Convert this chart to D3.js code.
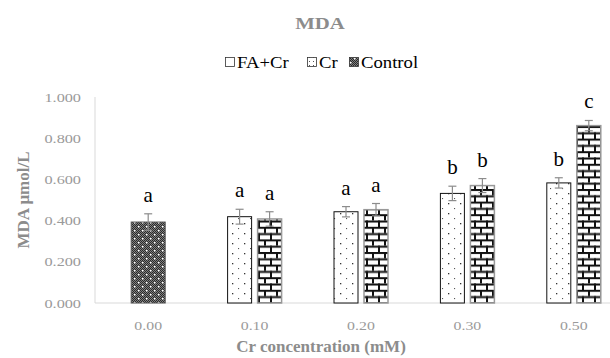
<!DOCTYPE html>
<html>
<head>
<meta charset="utf-8">
<script src="https://cdn.jsdelivr.net/npm/d3@7"></script>
<style>
  body { margin: 0; background: #fff; }
  svg { display: block; }
  svg text { font-family: "Liberation Serif", "DejaVu Serif", serif; }
</style>
</head>
<body>
<div id="chart"></div>
<script>
const categories = ['0.00', '0.10', '0.20', '0.30', '0.50'];
const seriesNames = ['FA+Cr', 'Cr', 'Control'];
const faCrValues = [null, 0.419, 0.443, 0.532, 0.583];
const crValues = [null, 0.408, 0.453, 0.570, 0.861];
const controlValues = [0.393, null, null, null, null];
const faCrErrors = [null, 0.036, 0.025, 0.035, 0.025];
const crErrors = [null, 0.035, 0.03, 0.034, 0.025];
const controlErrors = [0.04, null, null, null, null];
const faCrLetters = [null, 'a', 'a', 'b', 'b'];
const crLetters = [null, 'a', 'a', 'b', 'c'];
const controlLetters = ['a', null, null, null, null];
const yTicks = [0, 0.2, 0.4, 0.6, 0.8, 1.0];

const width = 610;
const height = 358;
const margin = { top: 97, right: -17, bottom: 55, left: 95 };

const svg = d3.select('#chart').append('svg')
  .attr('width', width)
  .attr('height', height);

// the original text looks stretched sideways, so text gets a small x-scale
function wideText(g, px, py, sx, anchor) {
  return g.append('text')
    .attr('transform', `translate(${px},${py}) scale(${sx},1)`)
    .attr('text-anchor', anchor || 'middle');
}

// patterns
const defs = svg.append('defs');

const dots = defs.append('pattern').attr('id', 'pat-dots')
  .attr('patternUnits', 'userSpaceOnUse').attr('width', 12).attr('height', 10);
dots.append('rect').attr('width', 12).attr('height', 10).attr('fill', '#fff');
dots.append('rect').attr('x', 4).attr('y', 3).attr('width', 1.3).attr('height', 1.3).attr('fill', '#333');
dots.append('rect').attr('x', 10).attr('y', 8).attr('width', 1.1).attr('height', 1.1).attr('fill', '#555');

const brick = defs.append('pattern').attr('id', 'pat-brick')
  .attr('patternUnits', 'userSpaceOnUse').attr('width', 12).attr('height', 12.6);
brick.append('rect').attr('width', 12).attr('height', 12.6).attr('fill', '#fff');
brick.append('rect').attr('x', 0).attr('y', 0).attr('width', 12).attr('height', 2).attr('fill', '#111');
brick.append('rect').attr('x', 0).attr('y', 6.3).attr('width', 12).attr('height', 2).attr('fill', '#111');
brick.append('rect').attr('x', 0).attr('y', 0).attr('width', 2).attr('height', 6.3).attr('fill', '#111');
brick.append('rect').attr('x', 6).attr('y', 6.3).attr('width', 2).attr('height', 6.3).attr('fill', '#111');

const dark = defs.append('pattern').attr('id', 'pat-dark')
  .attr('patternUnits', 'userSpaceOnUse').attr('width', 8).attr('height', 8);
dark.append('rect').attr('width', 8).attr('height', 8).attr('fill', '#808080');
for (let i = 0; i < 8; i++) {
  for (let j = 0; j < 8; j++) {
    if ((i + j) % 2 === 0) dark.append('rect').attr('x', i).attr('y', j).attr('width', 1).attr('height', 1).attr('fill', '#2a2a2a');
  }
}
dark.append('rect').attr('x', 2).attr('y', 2).attr('width', 1.5).attr('height', 1.5).attr('fill', '#fff');
dark.append('rect').attr('x', 6).attr('y', 6).attr('width', 1.5).attr('height', 1.5).attr('fill', '#fff');

// small legend swatch for the dotted series
const dotsKey = defs.append('pattern').attr('id', 'pat-dots-key')
  .attr('patternUnits', 'userSpaceOnUse').attr('width', 4).attr('height', 4);
dotsKey.append('rect').attr('width', 4).attr('height', 4).attr('fill', '#fff');
dotsKey.append('rect').attr('x', 1).attr('y', 1).attr('width', 1).attr('height', 1).attr('fill', '#555');

const fills = { 'FA+Cr': 'url(#pat-dots)', 'Cr': 'url(#pat-brick)', 'Control': 'url(#pat-dark)' };
const keyFills = { 'FA+Cr': '#fff', 'Cr': 'url(#pat-dots-key)', 'Control': 'url(#pat-dark)' };
const strokes = { 'FA+Cr': '#111', 'Cr': '#999', 'Control': '#555' };

// scales
const x = d3.scaleBand().domain(categories)
  .range([margin.left, width - margin.right]);
const x1 = d3.scaleBand().domain(['FA+Cr', 'Cr'])
  .range([-27.5, 27.5]).paddingInner(0.1667);
const y = d3.scaleLinear().domain([0, 1]).range([height - margin.bottom, margin.top]);

// axes
svg.append('line')
  .attr('x1', margin.left).attr('x2', margin.left)
  .attr('y1', y(1)).attr('y2', y(0))
  .attr('stroke', '#d9d9d9');
svg.append('line')
  .attr('x1', margin.left).attr('x2', width)
  .attr('y1', y(0)).attr('y2', y(0))
  .attr('stroke', '#d9d9d9');

const tickG = svg.append('g').attr('fill', '#9a9a9a').attr('font-size', 13);
yTicks.forEach((d) => {
  wideText(tickG, 81, y(d), 1.25, 'end')
    .attr('dy', '0.35em')
    .text(d3.format('.3f')(d));
});
categories.forEach((d) => {
  wideText(tickG, x(d) + x.bandwidth() / 2, 325, 1.22)
    .attr('dy', '0.35em')
    .text(d);
});

// bars
const bars = [];
categories.forEach((cat, i) => {
  const cx = x(cat) + x.bandwidth() / 2;
  if (faCrValues[i] != null) bars.push({ s: 'FA+Cr', x0: cx + x1('FA+Cr'), w: x1.bandwidth(), v: faCrValues[i], e: faCrErrors[i], l: faCrLetters[i] });
  if (crValues[i] != null) bars.push({ s: 'Cr', x0: cx + x1('Cr'), w: x1.bandwidth(), v: crValues[i], e: crErrors[i], l: crLetters[i] });
  if (controlValues[i] != null) bars.push({ s: 'Control', x0: cx - 17.5, w: 35, v: controlValues[i], e: controlErrors[i], l: controlLetters[i] });
});

const barG = svg.append('g');
barG.selectAll('rect').data(bars).enter().append('rect')
  .attr('x', (d) => d.x0 + 0.5)
  .attr('y', (d) => y(d.v))
  .attr('width', (d) => d.w - 1)
  .attr('height', (d) => y(0) - y(d.v))
  .attr('fill', (d) => fills[d.s])
  .attr('stroke', (d) => strokes[d.s])
  .attr('stroke-width', (d) => (d.s === 'Cr' ? 1.5 : 1));

const errG = svg.append('g').attr('stroke', '#8c8c8c').attr('stroke-width', 1.2);
bars.forEach((d) => {
  const cx = d.x0 + d.w / 2;
  errG.append('line').attr('x1', cx).attr('x2', cx).attr('y1', y(d.v + d.e)).attr('y2', y(d.v - d.e));
  errG.append('line').attr('x1', cx - 4).attr('x2', cx + 4).attr('y1', y(d.v + d.e)).attr('y2', y(d.v + d.e));
  errG.append('line').attr('x1', cx - 4).attr('x2', cx + 4).attr('y1', y(d.v - d.e)).attr('y2', y(d.v - d.e));
});

svg.append('g').selectAll('text').data(bars).enter().append('text')
  .attr('x', (d) => d.x0 + d.w / 2)
  .attr('y', (d) => y(d.v + d.e) - 12)
  .attr('text-anchor', 'middle')
  .attr('font-size', 21)
  .attr('fill', '#000')
  .text((d) => d.l);

// titles
wideText(svg, 320, 29, 1.3)
  .attr('font-size', 16).attr('font-weight', 'bold')
  .attr('fill', '#8c8c8c')
  .text('MDA');

svg.append('text')
  .attr('transform', `translate(29, ${(y(0) + y(1)) / 2}) rotate(-90)`)
  .attr('text-anchor', 'middle')
  .attr('font-size', 17).attr('font-weight', 'bold')
  .attr('fill', '#8c8c8c')
  .text('MDA μmol/L');

svg.append('text')
  .attr('x', 321).attr('y', 352)
  .attr('text-anchor', 'middle')
  .attr('font-size', 17).attr('font-weight', 'bold')
  .attr('fill', '#8c8c8c')
  .text('Cr concentration (mM)');

// legend
const legendX = [225, 307, 349];
const legend = svg.append('g');
seriesNames.forEach((s, i) => {
  legend.append('rect')
    .attr('x', legendX[i] + 0.5).attr('y', 57.5)
    .attr('width', 9).attr('height', 9)
    .attr('fill', keyFills[s])
    .attr('stroke', '#333').attr('stroke-width', 0.8);
  wideText(legend, legendX[i] + 12, 68, 1.1, 'start')
    .attr('font-size', 17)
    .attr('fill', '#000')
    .text(s);
});
</script>
</body>
</html>
